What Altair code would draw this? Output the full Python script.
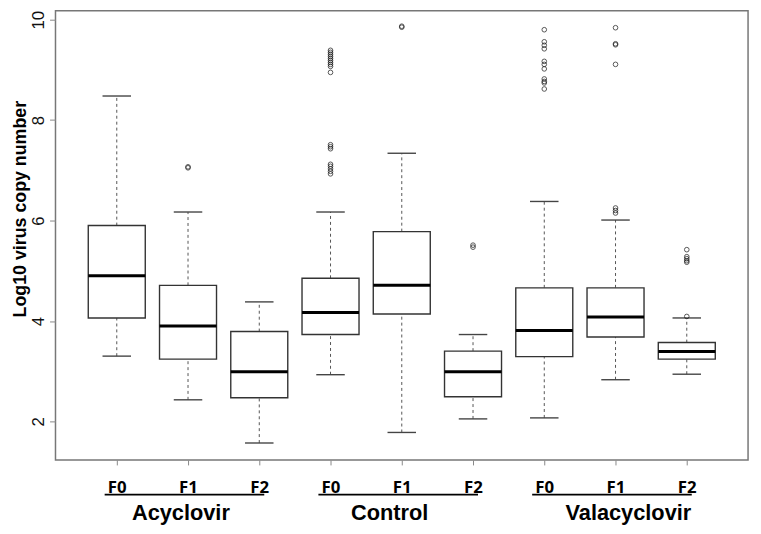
import altair as alt
import pandas as pd

# ---- data ----
groups = ["Acyclovir", "Control", "Valacyclovir"]
generations = ["F0", "F1", "F2"]

lower_whisker = [3.30, 2.43, 1.57, 2.93, 1.78, 2.05, 2.07, 2.83, 2.94]
q1 = [4.06, 3.24, 2.47, 3.73, 4.14, 2.49, 3.29, 3.68, 3.24]
median = [4.90, 3.90, 2.99, 4.17, 4.71, 2.99, 3.81, 4.08, 3.39]
q3 = [5.90, 4.71, 3.79, 4.85, 5.78, 3.40, 4.66, 4.66, 3.57]
upper_whisker = [8.48, 6.17, 4.38, 6.17, 7.34, 3.73, 6.38, 6.01, 4.06]

outliers = [
    [],
    [7.05, 7.07],
    [],
    [9.39, 9.35, 9.31, 9.27, 9.23, 9.19, 9.15, 9.11, 9.07, 8.95,
     7.51, 7.47, 7.43, 7.12, 7.08, 7.03, 6.98, 6.93],
    [9.87, 9.85],
    [5.51, 5.47],
    [9.80, 9.56, 9.49, 9.42, 9.17, 9.11, 9.02, 8.82, 8.77, 8.74, 8.62],
    [9.84, 9.52, 9.50, 9.11, 6.25, 6.20, 6.15],
    [5.42, 5.28, 5.24, 5.20, 5.17, 4.09],
]

y_ticks = [2, 4, 6, 8, 10]

# ---- tables ----
rows = []
for i in range(9):
    pos = i + 1
    rows.append(dict(pos=pos, left=pos - 0.4, right=pos + 0.4,
                     capl=pos - 0.2, capr=pos + 0.2,
                     group=groups[i // 3], gen=generations[i % 3],
                     lo=lower_whisker[i], q1=q1[i], med=median[i],
                     q3=q3[i], hi=upper_whisker[i]))
stats = pd.DataFrame(rows)

out_rows = []
for i, vals in enumerate(outliers):
    for v in vals:
        out_rows.append(dict(pos=i + 1, value=v))
outdf = pd.DataFrame(out_rows)

label_centers = [1.90, 4.83, 8.18]
grp = pd.DataFrame(dict(group=groups,
                        center=label_centers,
                        start=[g * 3 + 1 - 0.17 for g in range(3)],
                        end=[g * 3 + 3 + 0.07 for g in range(3)]))

W, H = 700, 454
xscale = alt.Scale(domain=[0.14, 9.86], nice=False, zero=False)
yscale = alt.Scale(domain=[1.232, 10.177], nice=False, zero=False)

xaxis = alt.Axis(values=list(range(1, 10)),
                 labelExpr="['F0','F1','F2'][(datum.value - 1) % 3]",
                 title=None, grid=False, domain=False,
                 tickSize=5, tickColor="#888", tickWidth=1,
                 labelFont="Open Sans", labelFontWeight="bold", labelFontSize=17,
                 labelColor="#000", labelBaseline="alphabetic",
                 labelPadding=28)
yaxis = alt.Axis(values=y_ticks, title="Log10 virus copy number",
                 grid=False, domain=False, tickSize=6, tickColor="#888",
                 tickWidth=1,
                 labelFont="Liberation Sans", labelFontSize=17,
                 labelColor="#111", labelAngle=270, labelAlign="center",
                 labelBaseline="alphabetic", labelPadding=6,
                 titleFont="Liberation Sans", titleFontWeight="bold",
                 titleFontSize=18, titleColor="#000", titleAngle=270,
                 titleAlign="center", titleBaseline="alphabetic",
                 titleX=-30, titleY=200)

base = alt.Chart(stats)

whisk_up = base.mark_rule(color="#555", strokeDash=[3, 3], strokeWidth=1).encode(
    x=alt.X("pos:Q", scale=xscale, axis=xaxis),
    y=alt.Y("q3:Q", scale=yscale, axis=yaxis),
    y2="hi:Q")
whisk_lo = base.mark_rule(color="#555", strokeDash=[3, 3], strokeWidth=1).encode(
    x="pos:Q", y="lo:Q", y2="q1:Q")
cap_hi = base.mark_rule(color="#444", strokeWidth=1.4).encode(
    x="capl:Q", x2="capr:Q", y="hi:Q")
cap_lo = base.mark_rule(color="#444", strokeWidth=1.4).encode(
    x="capl:Q", x2="capr:Q", y="lo:Q")
box = base.mark_rect(fill="white", stroke="#333", strokeWidth=1.4).encode(
    x="left:Q", x2="right:Q", y="q1:Q", y2="q3:Q")
med = base.mark_rule(color="#000", strokeWidth=3).encode(
    x="left:Q", x2="right:Q", y="med:Q")
pts = alt.Chart(outdf).mark_point(shape="circle", filled=False, size=22,
                                  color="#111", strokeWidth=1).encode(
    x="pos:Q", y="value:Q")

underline = alt.Chart(grp).mark_rule(color="#000", strokeWidth=1.6).encode(
    x="start:Q", x2="end:Q", y=alt.value(489))
glabel = alt.Chart(grp).mark_text(font="Liberation Sans", fontWeight="bold",
                                  fontSize=22, baseline="alphabetic",
                                  align="center", color="#000").encode(
    x="center:Q", y=alt.value(515), text="group:N")

chart = alt.layer(whisk_up, whisk_lo, cap_hi, cap_lo, box, med, pts,
                  underline, glabel).properties(
    width=W, height=H,
    autosize=alt.AutoSizeParams(type="none"),
    padding={"left": 48, "top": 0, "right": 5, "bottom": 72},
).configure_view(stroke="#777", strokeWidth=1.5)

chart.save("out.html", embed_options={"renderer": "svg", "actions": False})
